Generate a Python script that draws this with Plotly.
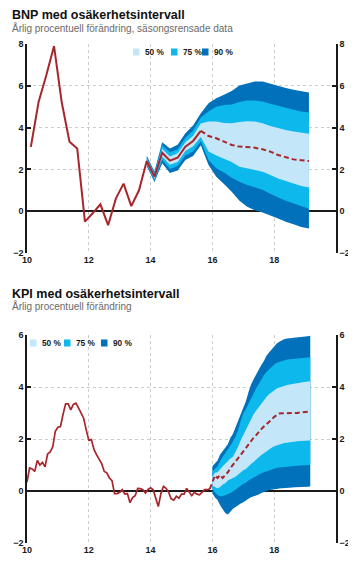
import plotly.graph_objects as go

# ---------------- BNP (quarterly) ----------------
bnp_quarters = [f"{y}Q{q}" for y in range(2010, 2020) for q in range(1, 5)][:37]
bnp_actual = [3.08, 5.23, 6.5, 7.9, 5.2, 3.32, 3.0, -0.5, -0.1, 0.33, -0.67, 0.6,
              1.32, 0.24, 1.0, 2.4, 1.65, 2.8, 2.42, 2.56, 3.09, 3.36, 3.84]
bnp_forecast = [3.84, 3.6, 3.49, 3.33, 3.17, 3.09, 3.07, 3.04, 2.96, 2.85, 2.69,
                2.58, 2.48, 2.44, 2.4]
# bands from 2013Q4 to 2019Q1
bnp_u90 = [2.65, 1.9, 3.3, 3.0, 3.18, 3.73, 4.1, 4.69, 5.17, 5.41, 5.57, 5.75, 6.02,
           6.13, 6.21, 6.21, 6.1, 6.0, 5.89, 5.81, 5.73, 5.68]
bnp_u75 = [2.58, 1.83, 3.15, 2.82, 2.97, 3.52, 3.86, 4.48, 4.77, 5.0, 5.08, 5.1, 5.22,
           5.3, 5.3, 5.25, 5.14, 5.04, 4.93, 4.85, 4.77, 4.72]
bnp_u50 = [2.5, 1.75, 2.98, 2.62, 2.77, 3.3, 3.61, 4.2, 4.29, 4.29, 4.22, 4.21, 4.27,
           4.3, 4.29, 4.21, 4.08, 3.97, 3.89, 3.81, 3.76, 3.7]
bnp_l50 = [2.3, 1.55, 2.62, 2.22, 2.36, 2.88, 3.11, 3.55, 2.86, 2.66, 2.5, 2.35, 2.13,
           2.05, 1.97, 1.89, 1.73, 1.57, 1.44, 1.33, 1.2, 1.13]
bnp_l75 = [2.22, 1.47, 2.45, 2.02, 2.16, 2.66, 2.86, 3.35, 2.45, 2.05, 1.85, 1.6, 1.41,
           1.25, 1.14, 1.01, 0.85, 0.66, 0.5, 0.37, 0.24, 0.12]
bnp_l90 = [2.15, 1.4, 2.3, 1.83, 1.95, 2.45, 2.64, 3.15, 2.21, 1.65, 1.3, 0.93, 0.5,
           0.21, 0.05, -0.06, -0.19, -0.35, -0.51, -0.62, -0.75, -0.83]

# ---------------- KPI (monthly) ----------------
kpi_months = [f"{y}-{m:02d}" for y in range(2010, 2020) for m in range(1, 13)][:111]
kpi_actual = [0.34, 0.89, 0.85, 0.75, 1.18, 1.0, 1.1, 0.93, 1.42, 1.5, 1.7, 2.3,
              2.45, 2.48, 2.95, 3.35, 3.35, 3.12, 3.33, 3.38, 3.2, 2.98, 2.8, 2.35,
              1.95, 1.98, 1.6, 1.4, 1.2, 1.05, 0.75, 0.7, 0.5, 0.4, -0.1, -0.1,
              -0.05, 0.05, -0.12, -0.1, -0.45, -0.25, -0.18, 0.1, 0.09, 0.05, -0.08, 0.06,
              0.12, 0.05, -0.28, -0.6, -0.1, 0.18, 0.1, -0.05, -0.3, -0.35, -0.2, -0.28,
              -0.12, -0.12, 0.1, -0.03, -0.18, -0.05, -0.12, -0.15, -0.05, 0.05, 0.05, 0.08]
kpi_forecast = [0.08, 0.35, 0.6, 0.5, 0.62, 0.5, 0.6, 0.72, 0.88, 1.0, 1.12, 1.25, 1.4,
                1.52, 1.65, 1.8, 1.92, 2.05, 2.15, 2.28, 2.38, 2.48, 2.56, 2.65, 2.75,
                2.85, 2.93, 2.98, 2.99, 2.99, 2.98, 2.98, 2.98, 2.99, 3.0, 3.02, 3.03,
                3.04, 3.05, 3.06]
# bands from 2016-01 to 2019-03
kpi_u90 = [0.95, 1.05, 1.17, 1.4, 1.55, 1.7, 1.8, 2.05, 2.2, 2.45, 2.7, 3.0, 3.25, 3.45,
           3.8, 4.1, 4.3, 4.5, 4.7, 4.85, 5.0, 5.2, 5.33, 5.45, 5.58, 5.67, 5.74, 5.8,
           5.85, 5.87, 5.88, 5.89, 5.9, 5.9, 5.9, 5.92, 5.94, 5.95, 5.97]
kpi_u75 = [0.75, 0.85, 0.95, 1.15, 1.3, 1.45, 1.55, 1.75, 1.9, 2.1, 2.35, 2.7, 2.98, 3.15,
           3.35, 3.6, 3.78, 3.95, 4.12, 4.3, 4.45, 4.58, 4.68, 4.78, 4.87, 4.93, 4.97, 5.0,
           5.04, 5.06, 5.07, 5.08, 5.09, 5.1, 5.11, 5.12, 5.13, 5.13, 5.14]
kpi_u50 = [0.55, 0.7, 0.72, 0.85, 0.95, 1.05, 1.17, 1.25, 1.32, 1.5, 1.7, 1.95, 2.15, 2.35,
           2.55, 2.77, 2.95, 3.1, 3.23, 3.38, 3.5, 3.62, 3.72, 3.8, 3.88, 3.94, 3.98, 4.02,
           4.05, 4.08, 4.1, 4.11, 4.12, 4.14, 4.16, 4.18, 4.19, 4.2, 4.22]
kpi_l50 = [0.2, 0.15, 0.1, 0.15, 0.25, 0.3, 0.4, 0.45, 0.5, 0.55, 0.62, 0.72, 0.8, 0.85,
           0.95, 1.04, 1.12, 1.2, 1.28, 1.38, 1.45, 1.52, 1.6, 1.66, 1.72, 1.76, 1.79, 1.82,
           1.85, 1.87, 1.88, 1.89, 1.9, 1.91, 1.92, 1.93, 1.93, 1.94, 1.94]
kpi_l75 = [0.05, -0.05, -0.15, -0.2, -0.2, -0.15, -0.12, -0.08, -0.02, 0.05, 0.12, 0.2,
           0.28, 0.32, 0.4, 0.46, 0.52, 0.58, 0.63, 0.68, 0.72, 0.76, 0.8, 0.83, 0.86, 0.89,
           0.9, 0.92, 0.94, 0.95, 0.95, 0.96, 0.96, 0.97, 0.98, 0.98, 0.99, 1.0, 1.0]
kpi_l90 = [-0.1, -0.25, -0.35, -0.55, -0.72, -0.85, -0.9, -0.8, -0.68, -0.6, -0.55, -0.48,
           -0.43, -0.38, -0.3, -0.24, -0.2, -0.16, -0.13, -0.08, -0.04, 0.0, 0.03, 0.05,
           0.07, 0.09, 0.1, 0.11, 0.12, 0.12, 0.13, 0.13, 0.14, 0.14, 0.15, 0.15, 0.16,
           0.16, 0.17]

band_labels = ["50 %", "75 %", "90 %"]
C50, C75, C90 = "#C3E6F8", "#0DB8EC", "#0071BA"
LINE = "#A8262B"
DARK = "#1a1a1a"
FONT = "Liberation Sans, Arial"


def qpos(label):
    y, q = int(label[:4]), int(label[-1])
    return y - 2000 + (q - 1) / 4 + 0.125


def mpos(label):
    y, m = int(label[:4]), int(label[5:])
    return y - 2000 + (m - 1) / 12


bx = [qpos(q) for q in bnp_quarters]
kx = [mpos(m) for m in kpi_months]

fig = go.Figure()


def add_fan(xs, bands, xa, ya):
    for (up, lo), col in zip(bands, [C90, C75, C50]):
        fig.add_trace(go.Scatter(
            x=xs + xs[::-1], y=up + lo[::-1], fill="toself", fillcolor=col,
            line=dict(width=0, color=col), mode="lines", hoverinfo="skip",
            xaxis=xa, yaxis=ya, showlegend=False))


# BNP
bfx = bx[len(bx) - len(bnp_u90):]
add_fan(bfx, [(bnp_u90, bnp_l90), (bnp_u75, bnp_l75), (bnp_u50, bnp_l50)], "x", "y")
fig.add_trace(go.Scatter(x=bx[:len(bnp_actual)], y=bnp_actual, mode="lines",
                         line=dict(color=LINE, width=2), xaxis="x", yaxis="y"))
fig.add_trace(go.Scatter(x=bx[len(bnp_actual) - 1:], y=bnp_forecast, mode="lines",
                         line=dict(color=LINE, width=2, dash="5px,3px"),
                         xaxis="x", yaxis="y"))
fig.add_trace(go.Scatter(x=bx[:len(bnp_actual)], y=bnp_actual, mode="lines", opacity=0,
                         hoverinfo="skip", xaxis="x", yaxis="y3"))

# KPI
kfx = kx[len(kx) - len(kpi_u90):]
add_fan(kfx, [(kpi_u90, kpi_l90), (kpi_u75, kpi_l75), (kpi_u50, kpi_l50)], "x2", "y2")
fig.add_trace(go.Scatter(x=kx[:len(kpi_actual)], y=kpi_actual, mode="lines",
                         line=dict(color=LINE, width=1.7), xaxis="x2", yaxis="y2"))
fig.add_trace(go.Scatter(x=kx[len(kpi_actual) - 1:], y=kpi_forecast, mode="lines",
                         line=dict(color=LINE, width=2, dash="5px,3px"),
                         xaxis="x2", yaxis="y2"))
fig.add_trace(go.Scatter(x=kx[:len(kpi_actual)], y=kpi_actual, mode="lines", opacity=0,
                         hoverinfo="skip", xaxis="x2", yaxis="y4"))

# page body has an 8px margin: figure pixel = window pixel - 8
OFF = 8
W, H = 356 - OFF, 564 - OFF


def px(x):
    return (x - OFF) / W


def py(y):
    return (H - (y - OFF)) / H


xdom = [px(27), px(336)]
top_dom = [py(253), py(44)]
bot_dom = [py(543), py(335)]

tickfont = dict(family=FONT, size=9, color=DARK, weight="bold")
xticks = [10, 12, 14, 16, 18]

xcommon = dict(range=[10, 20], tickvals=xticks, ticktext=[str(t) for t in xticks],
               showgrid=True, gridcolor="#cccccc", griddash="dot", gridwidth=1,
               showline=False, zeroline=False, ticks="", tickfont=tickfont,
               automargin=False, fixedrange=True)
ycommon = dict(showline=True, linecolor=DARK, linewidth=1.5, ticks="inside", ticklen=4,
               tickwidth=1.5, tickcolor=DARK, tickfont=tickfont, automargin=False,
               fixedrange=True)

fig.update_layout(
    width=W, height=H, margin=dict(l=0, r=0, t=0, b=0),
    paper_bgcolor="white", plot_bgcolor="white", showlegend=False,
    font=dict(family=FONT, size=9, color=DARK),
    xaxis=dict(domain=xdom, anchor="y", **xcommon),
    xaxis2=dict(domain=xdom, anchor="y2", **xcommon),
    yaxis=dict(domain=top_dom, anchor="x", range=[-2, 8], tickvals=[-2, 0, 2, 4, 6, 8],
               showgrid=True, gridcolor="#cccccc", griddash="dot", zeroline=True,
               zerolinecolor=DARK, zerolinewidth=2, **ycommon),
    yaxis3=dict(overlaying="y", anchor="x", side="right", range=[-2, 8],
                tickvals=[-2, 0, 2, 4, 6, 8], showgrid=False, zeroline=False, **ycommon),
    yaxis2=dict(domain=bot_dom, anchor="x2", range=[-2, 6], tickvals=[-2, 0, 2, 4, 6],
                showgrid=True, gridcolor="#cccccc", griddash="dot", zeroline=True,
                zerolinecolor=DARK, zerolinewidth=2, **ycommon),
    yaxis4=dict(overlaying="y2", anchor="x2", side="right", range=[-2, 6],
                tickvals=[-2, 0, 2, 4, 6], showgrid=False, zeroline=False, **ycommon),
)

# titles
annots = []
for title, sub, ty, sy in [
    ("BNP med osäkerhetsintervall", "Årlig procentuell förändring, säsongsrensade data", 15, 28),
    ("KPI med osäkerhetsintervall", "Årlig procentuell förändring", 294, 306),
]:
    annots.append(dict(text=title, x=px(10), y=py(ty), xref="paper", yref="paper",
                       xanchor="left", yanchor="middle", showarrow=False,
                       font=dict(family=FONT, size=12.5, color="#111", weight="bold")))
    annots.append(dict(text=sub, x=px(10), y=py(sy), xref="paper", yref="paper",
                       xanchor="left", yanchor="middle", showarrow=False,
                       font=dict(family=FONT, size=10, color="#6a6a6a")))

# manual legends
shapes = []
legend_specs = [
    (52, [133, 171, 202]),
    (343, [30, 64, 101]),
]
for ly, xs in legend_specs:
    for lx, col, lab in zip(xs, [C50, C75, C90], band_labels):
        shapes.append(dict(type="rect", xref="paper", yref="paper",
                           x0=px(lx), x1=px(lx + 6.5),
                           y0=py(ly + 3.5), y1=py(ly - 3.5),
                           fillcolor=col, line=dict(width=0)))
        annots.append(dict(text=lab, x=px(lx + 9.5), y=py(ly), xref="paper",
                           yref="paper", xanchor="left", yanchor="middle", showarrow=False,
                           font=dict(family=FONT, size=8.3, color=DARK, weight="bold")))

fig.update_layout(annotations=annots, shapes=shapes)
fig.write_html("out.html")
